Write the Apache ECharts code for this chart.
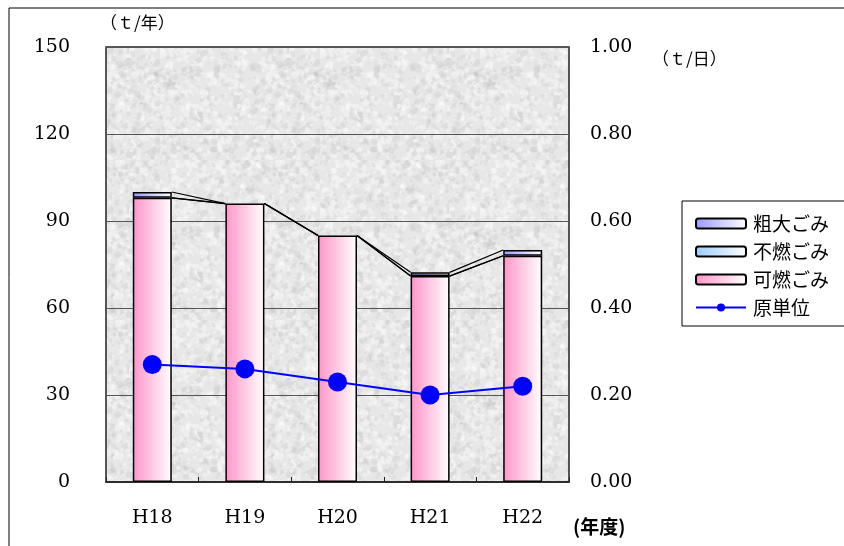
<!DOCTYPE html>
<html><head><meta charset="utf-8">
<script src="https://cdn.jsdelivr.net/npm/echarts@6/dist/echarts.min.js"></script>
<style>html,body{margin:0;padding:0;background:#fff}#c{width:844px;height:546px}</style>
</head><body><div id="c"></div>
<script>
const categories = ['H18', 'H19', 'H20', 'H21', 'H22'];
const kanen = [98, 96, 85, 71, 78];      // 可燃ごみ
const funen = [0, 0, 0, 0, 0];           // 不燃ごみ
const sodai = [2, 0, 0, 1.3, 2];         // 粗大ごみ
const genTani = [0.27, 0.26, 0.23, 0.20, 0.22]; // 原単位
const leftTicks = [0, 30, 60, 90, 120, 150];
const rightTicks = [0, 0.2, 0.4, 0.6, 0.8, 1.0];

const BAR_W = 39;

// texture for plot background
function makeTexture() {
  const c = document.createElement('canvas');
  c.width = 160; c.height = 160;
  const g = c.getContext('2d');
  g.fillStyle = '#e7e7e7';
  g.fillRect(0, 0, 160, 160);
  let s = 12345;
  const rnd = () => { s = (s * 1103515245 + 12345) & 0x7fffffff; return s / 0x7fffffff; };
  for (let i = 0; i < 1400; i++) {
    const x = rnd() * 160, y = rnd() * 160, r = 0.8 + rnd() * 2.5;
    const v = rnd();
    g.fillStyle = v > 0.4 ? 'rgba(255,255,255,0.35)' : 'rgba(200,200,200,0.3)';
    g.beginPath(); g.ellipse(x, y, r, r * (0.5 + rnd()), rnd() * 3, 0, Math.PI * 2); g.fill();
  }
  return c;
}

function grad(col) {
  return new echarts.graphic.LinearGradient(0, 0, 1, 0, [
    { offset: 0, color: col }, { offset: 1, color: '#ffffff' }
  ]);
}
const nz = arr => arr.map(v => (v === 0 ? null : v));

// cumulative levels for series lines
const lvl1 = kanen.slice();
const lvl2 = kanen.map((v, i) => v + funen[i]);
const lvl3 = kanen.map((v, i) => v + funen[i] + sodai[i]);
const segData = [];
for (let i = 0; i < categories.length - 1; i++) {
  segData.push([i, lvl1[i], lvl1[i + 1], lvl2[i], lvl2[i + 1], lvl3[i], lvl3[i + 1]]);
}

const serif = 'DejaVu Serif';
const chart = echarts.init(document.getElementById('c'));
chart.setOption({
  animation: false,
  backgroundColor: '#fff',
  grid: {
    left: 106, right: 275, top: 47, bottom: 64,
    show: true,
    backgroundColor: { image: makeTexture(), repeat: 'repeat' },
    borderColor: '#222', borderWidth: 1.5
  },
  legend: {
    orient: 'vertical', left: 690, top: 209,
    itemWidth: 50, itemHeight: 10, itemGap: 9,
    textStyle: { fontFamily: 'Noto Sans CJK JP', fontSize: 19, color: '#000', padding: [0, 0, 0, 2] },
    data: [
      { name: '粗大ごみ' }, { name: '不燃ごみ' }, { name: '可燃ごみ' }, { name: '原単位' }
    ]
  },
  xAxis: {
    type: 'category', data: categories,
    axisLine: { show: true, lineStyle: { color: '#222', width: 1.5 } },
    axisTick: { show: true, inside: true, length: 5, lineStyle: { color: '#222' } },
    axisLabel: { fontFamily: serif, fontSize: 19, color: '#000', margin: 27 }
  },
  yAxis: [
    {
      type: 'value', min: 0, max: 150, interval: 30,
      axisLine: { show: false }, axisTick: { show: false },
      splitLine: { show: true, lineStyle: { color: '#555', width: 1 } },
      axisLabel: { fontFamily: serif, fontSize: 19, color: '#000', margin: 36,
        formatter: v => leftTicks.includes(v) ? String(v) : '' }
    },
    {
      type: 'value', min: 0, max: 1, interval: 0.2,
      axisLine: { show: false }, axisTick: { show: false }, splitLine: { show: false },
      axisLabel: { fontFamily: serif, fontSize: 19, color: '#000', margin: 21, align: 'left',
        formatter: v => rightTicks.some(t => Math.abs(t - v) < 1e-9) ? v.toFixed(2) : '' }
    }
  ],
  series: [
    { name: '可燃ごみ', type: 'bar', stack: 'g', data: nz(kanen), barWidth: BAR_W,
      itemStyle: { color: grad('#ff94c8'), borderColor: '#000', borderWidth: 1.5 } },
    { name: '不燃ごみ', type: 'bar', stack: 'g', data: nz(funen), barWidth: BAR_W,
      itemStyle: { color: grad('#99ccff'), borderColor: '#000', borderWidth: 1.5 } },
    { name: '粗大ごみ', type: 'bar', stack: 'g', data: nz(sodai), barWidth: BAR_W,
      itemStyle: { color: grad('#9999ff'), borderColor: '#000', borderWidth: 1.5 } },
    { name: 'seriesLines', type: 'custom', data: segData, z: 5, silent: true,
      renderItem: function (params, api) {
        const i = api.value(0);
        const children = [];
        for (let k = 0; k < 3; k++) {
          const a = api.coord([i, api.value(1 + 2 * k)]);
          const b = api.coord([i + 1, api.value(2 + 2 * k)]);
          children.push({ type: 'line',
            shape: { x1: a[0] + BAR_W / 2, y1: a[1], x2: b[0] - BAR_W / 2, y2: b[1] },
            style: { stroke: '#000', lineWidth: 1.2 } });
        }
        return { type: 'group', children: children };
      } },
    { name: '原単位', type: 'line', yAxisIndex: 1, data: genTani, z: 10,
      symbol: 'circle', symbolSize: 19,
      lineStyle: { color: '#0000ff', width: 2 },
      itemStyle: { color: '#0000ff' } }
  ],
  graphic: [
    { type: 'rect', shape: { x: 9, y: 8, width: 900, height: 600 }, style: { fill: 'none', stroke: '#000', lineWidth: 1 }, silent: true },
    { type: 'rect', shape: { x: 682, y: 201, width: 200, height: 125 }, style: { fill: 'none', stroke: '#000', lineWidth: 1 }, silent: true },
    { type: 'text', left: 100, top: 14, style: { text: '（ｔ/年）', fontFamily: 'Noto Sans CJK JP', fontSize: 17, fill: '#000' } },
    { type: 'text', left: 652, top: 50, style: { text: '（ｔ/日）', fontFamily: 'Noto Sans CJK JP', fontSize: 17, fill: '#000' } },
    { type: 'text', left: 573, top: 517, style: { text: '(年度)', fontFamily: 'Noto Sans CJK JP', fontSize: 19, fontWeight: 'bold', fill: '#000' } }
  ]
});
</script></body></html>
